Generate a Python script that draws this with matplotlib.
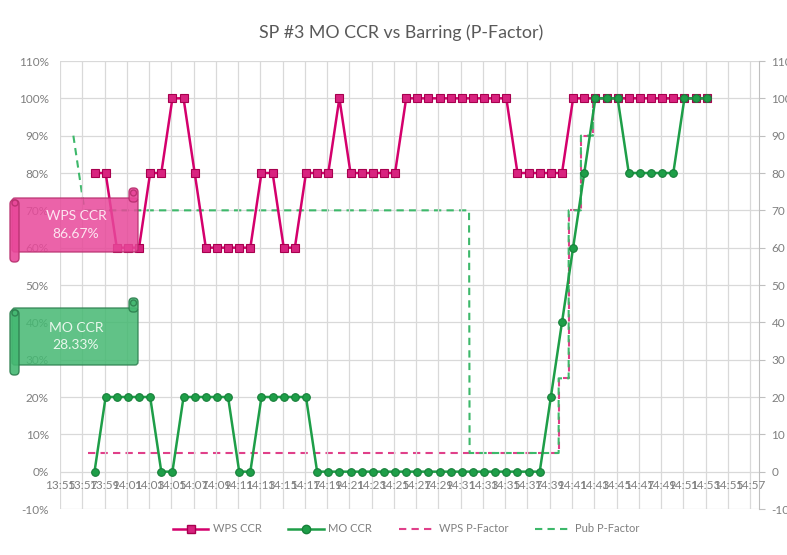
import numpy as np
import matplotlib
matplotlib.use('Agg')
import matplotlib.pyplot as plt
from matplotlib.patches import FancyBboxPatch, Circle
from matplotlib.lines import Line2D

plt.rcParams['font.family'] = ['Lato', 'DejaVu Sans']

# x axis: minutes after 13:55, labels every 2 minutes
tick_labels = ['13:55', '13:57', '13:59', '14:01', '14:03', '14:05', '14:07', '14:09',
               '14:11', '14:13', '14:15', '14:17', '14:19', '14:21', '14:23', '14:25',
               '14:27', '14:29', '14:31', '14:33', '14:35', '14:37', '14:39', '14:41',
               '14:43', '14:45', '14:47', '14:49', '14:51', '14:53', '14:55', '14:57']

# CCR samples, one per minute from ~13:58 to 14:53
wps_ccr = [80, 80, 60, 60, 60, 80, 80, 100, 100, 80,
           60, 60, 60, 60, 60, 80, 80, 60, 60, 80,
           80, 80, 100, 80, 80, 80, 80, 80, 100, 100,
           100, 100, 100, 100, 100, 100, 100, 100, 80, 80,
           80, 80, 80, 100, 100, 100, 100, 100, 100, 100,
           100, 100, 100, 100, 100, 100]
mo_ccr = [0, 20, 20, 20, 20, 20, 0, 0, 20, 20,
          20, 20, 20, 0, 0, 20, 20, 20, 20, 20,
          0, 0, 0, 0, 0, 0, 0, 0, 0, 0,
          0, 0, 0, 0, 0, 0, 0, 0, 0, 0,
          0, 20, 40, 60, 80, 100, 100, 100, 80, 80,
          80, 80, 80, 100, 100, 100]
ccr_min = 3.1 + np.arange(len(wps_ccr))

# P-Factor (secondary axis), step points
wps_pf_min = [2.5, 44.8, 44.8, 45.7, 45.7, 46.8, 46.8, 47.9, 47.9, 58.1]
wps_pf = [5, 5, 25, 25, 70, 70, 90, 90, 100, 100]
pub_pf_min = [1.2, 2.2, 36.75, 36.8, 44.8, 44.8, 45.7, 45.7, 46.8, 46.8, 47.9, 47.9, 58.1]
pub_pf = [90, 70, 70, 5, 5, 25, 25, 70, 70, 90, 90, 100, 100]

pink = '#D4006C'
green = '#1E9E48'
grid_c = '#D9D9D9'
txt_c = '#7F7F7F'

fig = plt.figure(figsize=(7.87, 5.55), dpi=100)
ax = fig.add_axes([60/787, 1-509/555, 699/787, 448/555])
ax2 = ax.twinx()

ax.plot(ccr_min, wps_ccr, color=pink, lw=1.8, marker='s', ms=5.5,
        mfc='#D8237F', mec='#A8004F', mew=0.8, label='WPS CCR', zorder=4)
ax.plot(ccr_min, mo_ccr, color=green, lw=1.8, marker='o', ms=5.5,
        mfc=green, mec='#17803A', mew=0.8, label='MO CCR', zorder=5)
ax2.plot(wps_pf_min, wps_pf, color='#E0408A', lw=1.5, ls=(0, (3.5, 2.5)), label='WPS P-Factor')
ax2.plot(pub_pf_min, pub_pf, color='#3DB86A', lw=1.5, ls=(0, (3.5, 2.5)), label='Pub P-Factor')
ax.set_zorder(ax2.get_zorder() + 1)
ax.patch.set_visible(False)

ax.spines['bottom'].set_position(('data', 0))
ax.set_xlim(0, 62.8)
ax.set_ylim(-10, 110)
ax2.set_ylim(-10, 110)
ax.set_xticks(np.arange(0, 63, 2))
ax.set_xticklabels(tick_labels)
ax.set_yticks(np.arange(-10, 111, 10))
ax.set_yticklabels([f'{v}%' for v in range(-10, 111, 10)])
ax2.set_yticks(np.arange(-10, 111, 10))
ax2.set_yticklabels([str(v) for v in range(-10, 111, 10)])

# vertical grid on the top axes, horizontal grid under the dashed lines
ax.grid(True, axis='x', color=grid_c, lw=0.9)
ax2.grid(True, axis='y', color=grid_c, lw=0.9)
ax.tick_params(axis='both', length=0, labelsize=8.5, labelcolor=txt_c)
ax.tick_params(axis='x', pad=6)
ax.tick_params(axis='y', pad=8)
ax2.tick_params(axis='y', length=4, color='#BFBFBF', pad=5, labelsize=8.5, labelcolor=txt_c)
for s in ['top', 'left', 'right', 'bottom']:
    ax.spines[s].set_visible(False)
for s in ['top', 'left', 'bottom']:
    ax2.spines[s].set_visible(False)
ax2.spines['right'].set_color('#BFBFBF')

fig.text(0.51, 1-33/555, 'SP #3 MO CCR vs Barring (P-Factor)', ha='center', va='center',
         fontsize=12.8, color='#595959')

handles = [Line2D([], [], color=pink, lw=1.8, marker='s', ms=6, mfc='#D8237F', mec='#A8004F'),
           Line2D([], [], color=green, lw=1.8, marker='o', ms=6, mfc=green, mec='#17803A'),
           Line2D([], [], color='#E0408A', lw=1.5, ls=(0, (3.5, 2.5))),
           Line2D([], [], color='#3DB86A', lw=1.5, ls=(0, (3.5, 2.5)))]
fig.legend(handles, ['WPS CCR', 'MO CCR', 'WPS P-Factor', 'Pub P-Factor'],
           loc='center', bbox_to_anchor=(406/787, 1-529/555), ncol=4, frameon=False,
           fontsize=8, handlelength=3.2, columnspacing=2.4, handletextpad=0.4,
           labelcolor=txt_c)

# scroll-shaped call-outs, drawn in pixel space
ov = fig.add_axes([0, 0, 1, 1], zorder=20)
ov.set_xlim(0, 787)
ov.set_ylim(555, 0)
ov.axis('off')
ov.patch.set_visible(False)


def scroll(x0, y0, x1, y1, face, edge, text, tcolor):
    ov.add_patch(FancyBboxPatch((x0 + 2, y0), x1 - x0 - 2, y1 - y0,
                                boxstyle='round,pad=0,rounding_size=3',
                                fc=face, ec=edge, lw=1, alpha=0.85))
    ov.add_patch(FancyBboxPatch((x0, y0 + 2), 9, y1 - y0 + 8,
                                boxstyle='round,pad=0,rounding_size=4',
                                fc=face, ec=edge, lw=1, alpha=0.9))
    ov.add_patch(Circle((x0 + 5, y0 + 5), 3, fc=face, ec=edge, lw=1, alpha=0.9))
    ov.add_patch(FancyBboxPatch((x1 - 9, y0 - 10), 9, 14,
                                boxstyle='round,pad=0,rounding_size=4',
                                fc=face, ec=edge, lw=1, alpha=0.9))
    ov.add_patch(Circle((x1 - 4.5, y0 - 5), 3, fc=face, ec=edge, lw=1, alpha=0.9))
    ov.text((x0 + x1) / 2 + 2, (y0 + y1) / 2, text, ha='center', va='center',
            fontsize=10, color=tcolor, linespacing=1.5)


scroll(10, 198, 138, 252, '#E8489A', '#B8306F', 'WPS CCR\n86.67%', '#FDE6F1')
scroll(10, 308, 138, 365, '#45B872', '#2E8050', 'MO CCR\n28.33%', '#E8F7EC')

fig.savefig('out.png', dpi=100)
